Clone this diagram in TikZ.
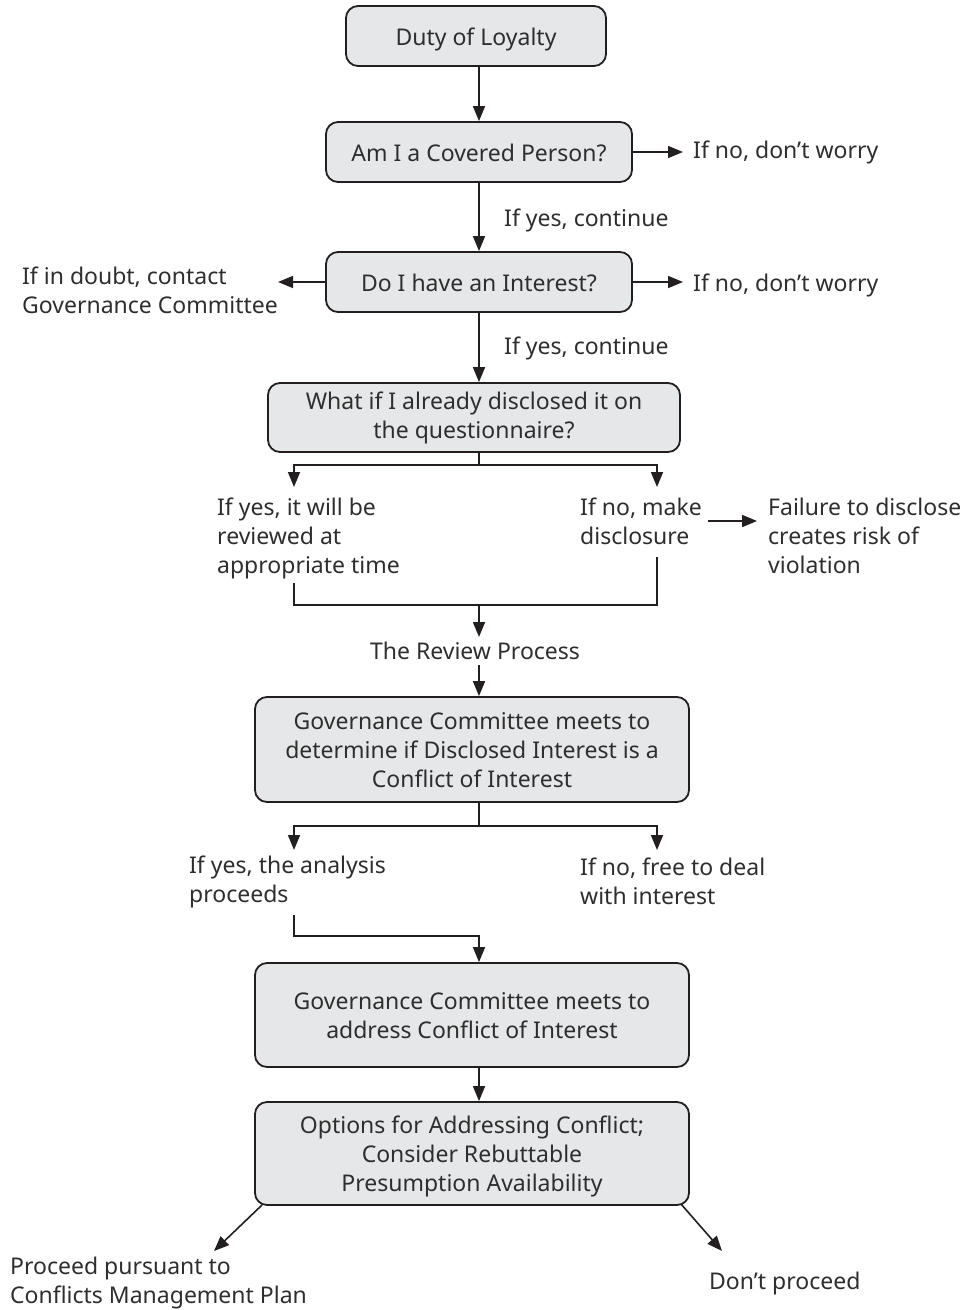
\documentclass[tikz,border=0pt]{standalone}
\usepackage{fontspec}
\setmainfont{Noto Sans}
\usetikzlibrary{arrows.meta}
\definecolor{boxfill}{HTML}{E6E7E8}
\definecolor{linec}{HTML}{231F20}
\definecolor{txt}{HTML}{2E2E2E}
\newcommand\bxtop{\rule{0pt}{24pt}}
\newcommand\bxbot{\rule[-6pt]{0pt}{6pt}}
\begin{document}
\begin{tikzpicture}[x=1pt,y=-1pt,
  every node/.style={font=\fontsize{23}{29}\selectfont, text=txt},
  box/.style={draw=linec, fill=boxfill, line width=1.8pt, rounded corners=12pt, align=center, inner sep=0pt},
  lbl/.style={align=left, inner sep=0pt, anchor=west},
  arr/.style={line width=1.6pt, draw=linec, -{Triangle[length=15pt,width=12pt]}},
  ln/.style={line width=1.6pt, draw=linec}]
\useasboundingbox (0,0) rectangle (967,1310);
% boxes
\node[box, minimum width=260, minimum height=60] (duty) at (476,36) {\bxtop Duty of Loyalty\bxbot};
\node[box, minimum width=306, minimum height=60] (covered) at (479,152) {\bxtop Am I a Covered Person?\bxbot};
\node[box, minimum width=306, minimum height=60] (interest) at (479,282) {\bxtop Do I have an Interest?\bxbot};
\node[box, minimum width=412, minimum height=69] (quest) at (474,417.5) {What if I already disclosed it on\\the questionnaire?};
\node[box, minimum width=434, minimum height=105] (gc1) at (472,749.5) {\bxtop Governance Committee meets to\\determine if Disclosed Interest is a\\Conflict of Interest\bxbot};
\node[box, minimum width=434, minimum height=104] (gc2) at (472,1015) {\bxtop Governance Committee meets to\\address Conflict of Interest\bxbot};
\node[box, minimum width=434, minimum height=103] (opt) at (472,1153.5) {\bxtop Options for Addressing Conflict;\\Consider Rebuttable\\Presumption Availability\bxbot};
% labels
\node[lbl] (no1) at (693,152) {If no, don’t worry};
\node[lbl] (yes1) at (504,220) {If yes, continue};
\node[lbl] (no2) at (693,285) {If no, don’t worry};
\node[lbl] (doubt) at (22,290.5) {If in doubt, contact\\Governance Committee};
\node[lbl] (yes2) at (504,348) {If yes, continue};
\node[lbl] (rev) at (217,538.5) {If yes, it will be\\reviewed at\\appropriate time};
\node[lbl] (make) at (580,521) {If no, make\\disclosure};
\node[lbl] (fail) at (768,535.5) {Failure to disclose\\creates risk of\\violation};
\node[anchor=center, inner sep=0pt] (review) at (475,651) {The Review Process};
\node[lbl] (proc) at (189,881.5) {If yes, the analysis\\proceeds};
\node[lbl] (free) at (580,881.5) {If no, free to deal\\with interest};
\node[lbl] (pursue) at (10,1283.5) {Proceed pursuant to\\Conflicts Management Plan};
\node[lbl] (dont) at (709,1284) {Don’t proceed};
% coordinates
\coordinate (tipno1) at (683,152);
\coordinate (tipno2) at (683,282);
\coordinate (tipdoubt) at (278,282);
\coordinate (q1) at (479,465);
\coordinate (qL) at (294,487);
\coordinate (qR) at (657,487);
\coordinate (f1) at (708,521);
\coordinate (f2) at (757,521);
\coordinate (mL) at (294,583);
\coordinate (mR) at (657,557);
\coordinate (m1) at (479,605);
\coordinate (r1) at (479,637);
\coordinate (r2) at (479,665);
\coordinate (g1) at (479,826);
\coordinate (gL) at (294,850);
\coordinate (gR) at (657,850);
\coordinate (pL) at (294,915);
\coordinate (p1) at (479,936);
\coordinate (dL1) at (262,1205);
\coordinate (dL2) at (214,1251);
\coordinate (dR1) at (681,1204);
\coordinate (dR2) at (722,1251);
% connectors
\draw[arr] (duty.south -| covered.north) -- (covered.north);
\draw[arr] (covered.east) -- (tipno1);
\draw[arr] (covered.south) -- (interest.north);
\draw[arr] (interest.east) -- (tipno2);
\draw[arr] (interest.west) -- (tipdoubt);
\draw[arr] (interest.south) -- (quest.north -| interest.south);
\draw[ln] (quest.south -| q1) -- (q1);
\draw[arr] (q1) -| (qL);
\draw[arr] (q1) -| (qR);
\draw[arr] (f1) -- (f2);
\draw[ln] (mL) |- (m1) -| (mR);
\draw[arr] (m1) -- (r1);
\draw[arr] (r2) -- (gc1.north -| r2);
\draw[ln] (gc1.south -| g1) -- (g1);
\draw[arr] (g1) -| (gL);
\draw[arr] (g1) -| (gR);
\draw[arr] (pL) |- (p1) -- (gc2.north -| p1);
\draw[arr] (gc2.south -| p1) -- (opt.north -| p1);
\draw[arr] (dL1) -- (dL2);
\draw[arr] (dR1) -- (dR2);
\end{tikzpicture}
\end{document}
